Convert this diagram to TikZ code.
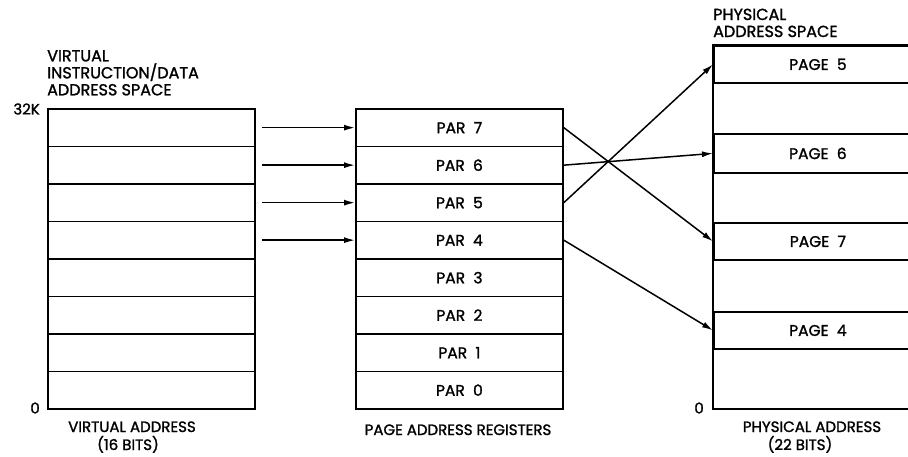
\documentclass[tikz,border=0pt]{standalone}
\usepackage{fontspec}
\setmainfont{Poppins}[FakeBold=1.4]
\usetikzlibrary{arrows.meta}
\begin{document}
\begin{tikzpicture}[x=1pt,y=-1pt,
  txt/.style={font=\fontsize{15}{17}\selectfont, inner sep=0pt},
  ttl/.style={font=\fontsize{16}{17}\selectfont, inner sep=0pt},
  cell/.style={draw, line width=1.8pt, minimum width=207pt, minimum height=37.5pt, inner sep=0pt, anchor=north west, font=\fontsize{15.5}{17}\selectfont},
  pcell/.style={draw, line width=1.8pt, minimum width=208pt, inner sep=0pt, anchor=north west, font=\fontsize{15.5}{17}\selectfont},
  arr/.style={line width=1.5pt, -{Latex[length=11pt,width=6pt]}}
]
\useasboundingbox (0,0) rectangle (908,456);
\clip (0,0) rectangle (908,456);

% virtual address space
\foreach \i/\y in {7/108,6/145.5,5/183,4/220.5,3/258,2/295.5,1/333,0/370.5}
  \node[cell] (v\i) at (47,\y) {};
\node[ttl, anchor=north west, align=left] (vt) at (47,50) {VIRTUAL\\INSTRUCTION/DATA\\ADDRESS SPACE};
\node[txt, anchor=east] (k32) at (40,109) {32K};
\node[txt, anchor=east] (v0l) at (40,408) {0};
\node[txt, anchor=base] (va) at (132,432) {VIRTUAL ADDRESS};
\node[txt, anchor=base] (vb) at (128,450) {(16 BITS)};

% page address registers
\foreach \i/\y in {7/108,6/145.5,5/183,4/220.5,3/258,2/295.5,1/333,0/370.5}
  \node[cell] (p\i) at (355,\y) {PAR~~\i};
\node[txt, anchor=base] (pr) at (458,435) {PAGE ADDRESS REGISTERS};

% physical address space
\draw[line width=1.8pt] (921,45) -- (713,45) -- (713,409) -- (921,409);
\node[pcell, minimum height=37pt] (pg5) at (713,45) {PAGE~~5};
\node[pcell, minimum height=39pt] (pg6) at (713,133) {PAGE~~6};
\node[pcell, minimum height=37pt] (pg7) at (713,222) {PAGE~~7};
\node[pcell, minimum height=37pt] (pg4) at (713,311) {PAGE~~4};
\node[ttl, anchor=base west] (pt1) at (713,20) {PHYSICAL};
\node[ttl, anchor=base west] (pt2) at (713,37) {ADDRESS SPACE};
\node[txt, anchor=east] (ph0) at (704,408) {0};
\node[txt, anchor=base] (pa) at (812,432) {PHYSICAL ADDRESS};
\node[txt, anchor=base] (pb) at (800,450) {(22 BITS)};

% arrows virtual -> PAR
\foreach \i in {7,6,5,4}
  \draw[arr, shorten <=6pt] (v\i.east) -- (p\i.west);

% arrows PAR -> pages
\draw[arr] (p7.east) -- (pg7.west);
\draw[arr] (p6.east) -- (pg6.west);
\draw[arr] (p5.east) -- (pg5.west);
\draw[arr] (p4.east) -- (pg4.west);
\end{tikzpicture}
\end{document}
